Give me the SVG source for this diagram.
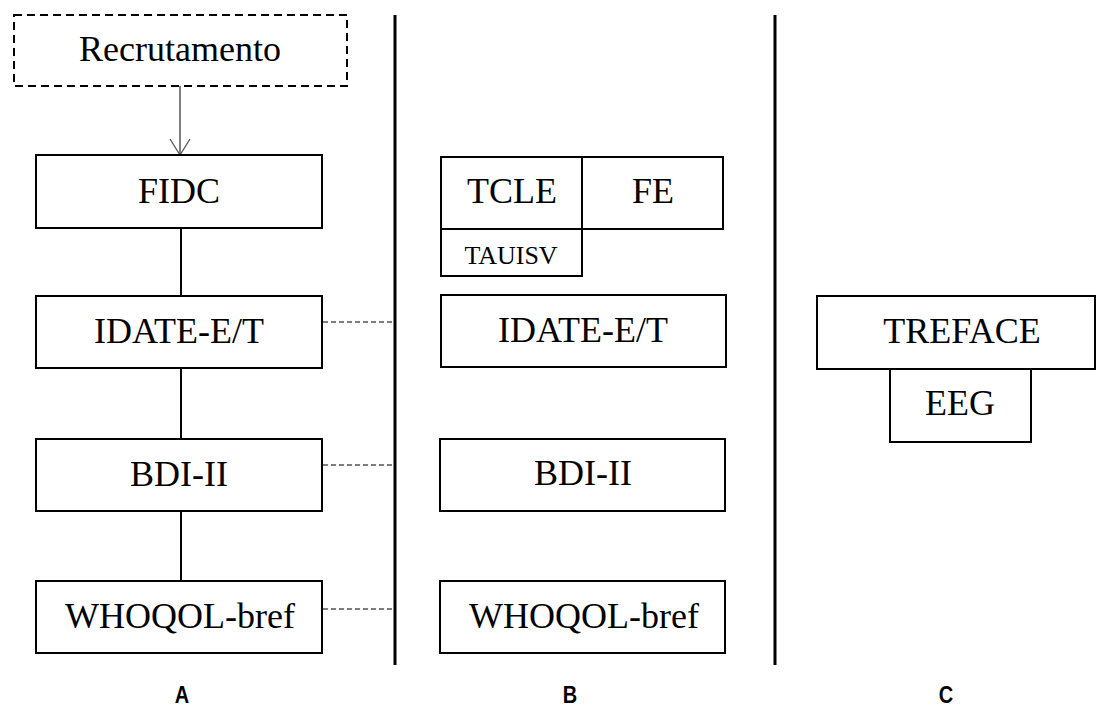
<svg xmlns="http://www.w3.org/2000/svg" width="1096" height="707" viewBox="0 0 1096 707">
  <style>
    .box { fill: #ffffff; stroke: #000000; stroke-width: 2; }
    .dashbox { fill: #ffffff; stroke: #000000; stroke-width: 2; stroke-dasharray: 8 5; }
    .t { font-family: "Liberation Serif", "Times New Roman", serif; font-size: 36px; fill: #000000; text-anchor: middle; }
    .ts { font-family: "Liberation Serif", "Times New Roman", serif; font-size: 26px; fill: #000000; text-anchor: middle; }
    .lbl { font-family: "Liberation Sans", Arial, sans-serif; font-size: 20px; font-weight: bold; fill: #000000; text-anchor: middle; }
    .link { stroke: #000000; stroke-width: 2; fill: none; }
    .dotted { stroke: #555555; stroke-width: 1.5; stroke-dasharray: 5 3; fill: none; }
    .divider { stroke: #000000; stroke-width: 3; }
    .arrow { stroke: #555555; stroke-width: 1.5; fill: none; }
  </style>
  <defs>
    <marker id="openArrow" markerWidth="18" markerHeight="22" refX="17" refY="11" orient="auto" markerUnits="userSpaceOnUse" viewBox="0 0 18 22">
      <path d="M1,1 L17,11 L1,21" fill="none" stroke="#555555" stroke-width="1.3"/>
    </marker>
  </defs>

  <rect width="1096" height="707" fill="#ffffff"/>

  <!-- column dividers -->
  <g id="dividers">
    <line class="divider" x1="395" y1="15" x2="395" y2="665"/>
    <line class="divider" x1="775" y1="15" x2="775" y2="665"/>
  </g>

  <!-- connectors -->
  <g id="connectors">
    <line class="arrow" x1="180" y1="86" x2="180" y2="155" marker-end="url(#openArrow)"/>
    <line class="link" x1="181" y1="228" x2="181" y2="296"/>
    <line class="link" x1="181" y1="368" x2="181" y2="439"/>
    <line class="link" x1="181" y1="511" x2="181" y2="581"/>
    <line class="dotted" x1="323" y1="322" x2="393" y2="322"/>
    <line class="dotted" x1="323" y1="465" x2="393" y2="465"/>
    <line class="dotted" x1="323" y1="609" x2="393" y2="609"/>
  </g>

  <!-- column A -->
  <g id="recrutamento">
    <rect class="dashbox" x="14" y="15" width="333" height="71"/>
    <text class="t" x="180" y="61">Recrutamento</text>
  </g>
  <g id="fidc">
    <rect class="box" x="36" y="155" width="286" height="73"/>
    <text class="t" x="179" y="203">FIDC</text>
  </g>
  <g id="idate-a">
    <rect class="box" x="36" y="296" width="286" height="72"/>
    <text class="t" x="179" y="343">IDATE-E/T</text>
  </g>
  <g id="bdi-a">
    <rect class="box" x="36" y="439" width="286" height="72"/>
    <text class="t" x="179" y="486">BDI-II</text>
  </g>
  <g id="whoqol-a">
    <rect class="box" x="36" y="581" width="286" height="72"/>
    <text class="t" x="180" y="628">WHOQOL-bref</text>
  </g>

  <!-- column B -->
  <g id="tcle">
    <rect class="box" x="441" y="157" width="141" height="72"/>
    <text class="t" x="512" y="203">TCLE</text>
  </g>
  <g id="fe">
    <rect class="box" x="582" y="157" width="141" height="72"/>
    <text class="t" x="653" y="203">FE</text>
  </g>
  <g id="tauisv">
    <rect class="box" x="441" y="229" width="141" height="47"/>
    <text class="ts" x="511" y="264">TAUISV</text>
  </g>
  <g id="idate-b">
    <rect class="box" x="441" y="295" width="285" height="72"/>
    <text class="t" x="583" y="342">IDATE-E/T</text>
  </g>
  <g id="bdi-b">
    <rect class="box" x="440" y="439" width="285" height="72"/>
    <text class="t" x="583" y="485">BDI-II</text>
  </g>
  <g id="whoqol-b">
    <rect class="box" x="440" y="581" width="285" height="72"/>
    <text class="t" x="584" y="628">WHOQOL-bref</text>
  </g>

  <!-- column C -->
  <g id="treface">
    <rect class="box" x="817" y="296" width="278" height="73"/>
    <text class="t" x="962" y="343">TREFACE</text>
  </g>
  <g id="eeg">
    <rect class="box" x="890" y="369" width="141" height="73"/>
    <text class="t" x="960" y="415">EEG</text>
  </g>

  <!-- column labels (slightly tall letterforms) -->
  <g id="labels" transform="scale(1,1.2)">
    <text class="lbl" x="182" y="585.5">A</text>
    <text class="lbl" x="570" y="585.5">B</text>
    <text class="lbl" x="946" y="585.5">C</text>
  </g>
</svg>
